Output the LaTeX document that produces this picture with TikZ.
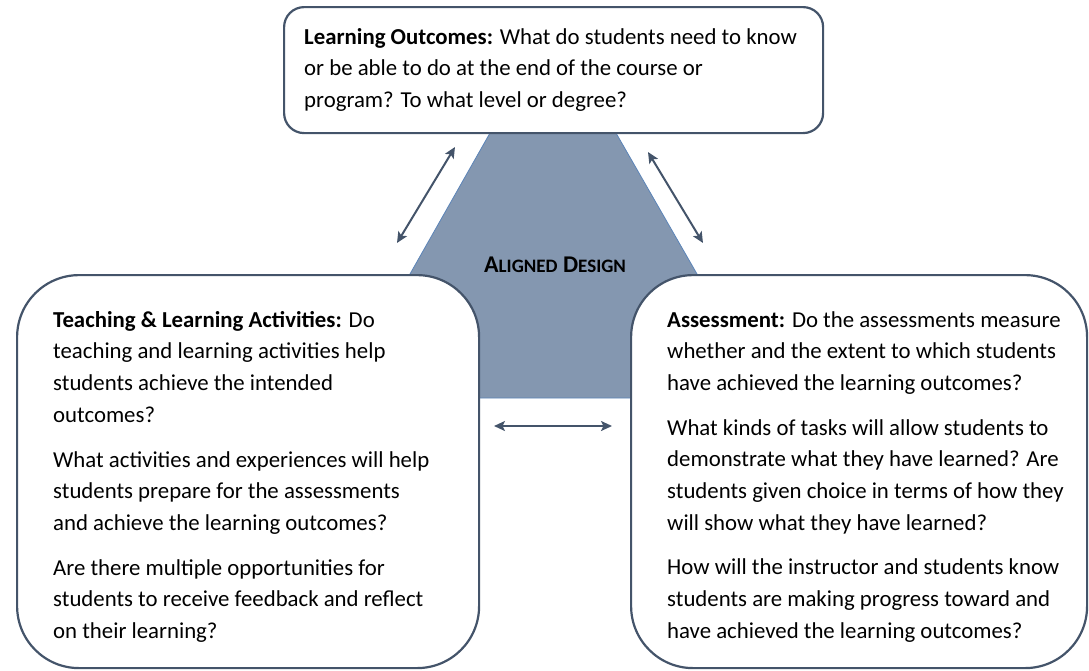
\documentclass[tikz,border=0pt]{standalone}
\usepackage{fontspec}
\setmainfont{Carlito}
\usetikzlibrary{arrows.meta,positioning}
\definecolor{slate}{HTML}{44546A}
\definecolor{designfill}{HTML}{8497B0}
\definecolor{designline}{HTML}{5B84B8}
\tikzset{
    qbox/.style={
        draw=slate,
        line width=2.2pt,
        fill=white,
        inner sep=0pt,
        anchor=north west
    },
    qtext/.style={
        anchor=north west,
        align=left,
        inner sep=0pt,
        font=\fontsize{22.8}{31.7}\selectfont
    },
    link/.style={
        draw=slate,
        line width=2pt,
        {Stealth[length=11pt, width=10pt, inset=2.5pt]}-{Stealth[length=11pt, width=10pt, inset=2.5pt]}
    }
}
\newcommand{\smallcap}[1]{{\fontsize{19}{19}\selectfont #1}}

\begin{document}
\begin{tikzpicture}[x=1pt, y=-1pt]
    \useasboundingbox (0,0) rectangle (1089,670);

    % Aligned design shape
    \draw[designline, line width=0.8pt, fill=designfill]
        (490,133) -- (616,133) -- (697,274) -- (697,398)
        -- (410,398) -- (410,274) -- cycle;

    % Boxes
    \node[qbox, rounded corners=20pt, minimum width=539pt, minimum height=126pt]
        (outcomes) at (283,6) {};
    \node[qbox, rounded corners=62pt, minimum width=462pt, minimum height=393pt]
        (activities) at (16,274) {};
    \node[qbox, rounded corners=62pt, minimum width=456pt, minimum height=393pt]
        (assessment) at (630,274) {};

    % Texts
    \node[qtext, below right=22pt and 21pt of outcomes.north west] (outcomesText)
        {\textbf{Learning Outcomes:} What do students need to know\\
         or be able to do at the end of the course or\\
         program? To what level or degree?};
    \node[qtext, below right=37pt and 37pt of activities.north west] (activitiesText)
        {\textbf{Teaching \& Learning Activities:} Do\\
         teaching and learning activities help\\
         students achieve the intended\\
         outcomes?\\[13pt]
         What activities and experiences will help\\
         students prepare for the assessments\\
         and achieve the learning outcomes?\\[13pt]
         Are there multiple opportunities for\\
         students to receive feedback and reflect\\
         on their learning?};
    \node[qtext, below right=37pt and 37pt of assessment.north west] (assessmentText)
        {\textbf{Assessment:} Do the assessments measure\\
         whether and the extent to which students\\
         have achieved the learning outcomes?\\[13pt]
         What kinds of tasks will allow students to\\
         demonstrate what they have learned? Are\\
         students given choice in terms of how they\\
         will show what they have learned?\\[13pt]
         How will the instructor and students know\\
         students are making progress toward and\\
         have achieved the learning outcomes?};
    \node[font=\fontsize{24}{24}\selectfont\bfseries, inner sep=0pt] (design) at (555,265)
        {A\smallcap{LIGNED} D\smallcap{ESIGN}};

    % Arrows
    \coordinate (leftLow) at (397,243);
    \coordinate (leftHigh) at (455,147);
    \coordinate (rightHigh) at (648,152);
    \coordinate (rightLow) at (703,243);
    \coordinate (midLeft) at (494,426);
    \coordinate (midRight) at (612,426);
    \draw[link] (leftLow) -- (leftHigh);
    \draw[link] (rightHigh) -- (rightLow);
    \draw[link] (midLeft) -- (midRight);
\end{tikzpicture}
\end{document}
